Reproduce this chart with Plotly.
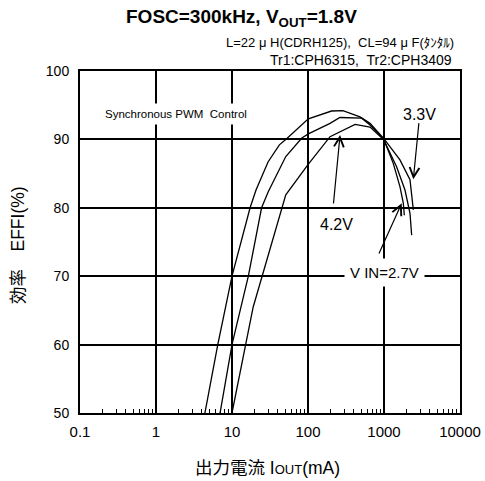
import numpy as np
import plotly.graph_objects as go

# ---------------- data ----------------
cur_27 = [4.4, 6.5, 10, 17.3, 20.7, 29.8, 42, 51, 101, 204, 288, 483, 655, 980, 1324, 1622, 1795, 1850]
eff_27 = [50, 60, 70, 80, 82.6, 86.7, 89.2, 90.0, 93.0, 94.15, 94.2, 93.3, 92.35, 90.2, 86.5, 83.1, 80.7, 78.9]

cur_33 = [6.96, 10, 16.4, 24.5, 30, 42.8, 51, 83, 101, 195, 263, 509, 655, 1030, 1622, 2198, 2432]
eff_33 = [50, 60, 70, 80, 82.35, 85.8, 87.5, 90.2, 90.8, 92.35, 93.2, 93.1, 92.1, 89.9, 87.0, 84.1, 79.7]

cur_42 = [10, 15.1, 19, 51, 100, 195, 263, 416, 655, 985, 1465, 1888, 2198, 2312]
eff_42 = [50, 60, 65.5, 81.9, 86.3, 90.4, 91.1, 92.2, 91.8, 90.0, 86.0, 82.6, 79.2, 76.0]

x_tick_vals = [0.1, 1, 10, 100, 1000, 10000]
x_tick_text = ["0.1", "1", "10", "100", "1000", "10000"]
x_minor_vals = [m * 10.0 ** d for d in range(-1, 4) for m in range(2, 10)]
y_tick_vals = [50, 60, 70, 80, 90, 100]

# arrow tips (current mA, efficiency %) and label positions
arrow_tip_33 = (2432, 84.17)
arrow_tip_42 = (264, 90.64)
arrow_tip_27 = (1710, 80.66)
label_33 = (2890, 93.57)
label_42 = (239, 77.49)
label_27 = (1030, 70.47)
label_sync = (1.83, 93.71)

FONT = "Liberation Sans, Arial, Noto Sans CJK JP, sans-serif"

# ---------------- figure ----------------
fig = go.Figure()
for c, e in [(cur_27, eff_27), (cur_33, eff_33), (cur_42, eff_42)]:
    fig.add_trace(go.Scatter(x=c, y=e, mode="lines",
                             line=dict(color="black", width=1.3),
                             showlegend=False, hoverinfo="skip"))

fig.update_layout(
    template="none",
    width=485, height=481,
    margin=dict(l=80, r=25, t=71, b=68, pad=0),
    paper_bgcolor="white", plot_bgcolor="white",
    font=dict(family=FONT, color="black"),
    xaxis=dict(type="log", range=[-1, 4], automargin=False,
               tickmode="array", tickvals=x_tick_vals, ticktext=x_tick_text,
               showgrid=True, gridcolor="black", gridwidth=1.5,
               showline=True, linecolor="black", linewidth=2, mirror=True,
               ticks="inside", ticklen=4, tickwidth=1, tickcolor="black",
               ticklabelstandoff=4,
               tickfont=dict(size=15, family=FONT),
               zeroline=False,
               minor=dict(tickmode="array", tickvals=x_minor_vals,
                          ticks="inside", ticklen=4, tickcolor="black",
                          tickwidth=1, showgrid=False)),
    yaxis=dict(range=[50, 100], tickmode="array", tickvals=y_tick_vals,
               automargin=False,
               showgrid=True, gridcolor="black", gridwidth=1.5,
               showline=True, linecolor="black", linewidth=2, mirror=True,
               ticks="", ticklabelstandoff=6,
               tickfont=dict(size=14, family=FONT),
               zeroline=False),
)

def px2paper(px, py):
    return (px - 80) / 380.0, (413 - py) / 342.0

anns = []
# title
tx, ty = px2paper(241, 18)
anns.append(dict(xref="paper", yref="paper", x=tx, y=ty, showarrow=False,
                 text="<b>FOSC=300kHz, V<sub>OUT</sub>=1.8V</b>",
                 font=dict(size=19, family=FONT), xanchor="center", yanchor="middle"))
sx, sy = px2paper(456, 43)
anns.append(dict(xref="paper", yref="paper", x=sx, y=sy, showarrow=False,
                 text="L=22 μ H(CDRH125),  CL=94 μ F(ﾀﾝﾀﾙ)",
                 font=dict(size=13, family=FONT), xanchor="right", yanchor="middle"))
sx, sy = px2paper(454, 60)
anns.append(dict(xref="paper", yref="paper", x=sx, y=sy, showarrow=False,
                 text="Tr1:CPH6315,  Tr2:CPH3409",
                 font=dict(size=14, family=FONT), xanchor="right", yanchor="middle"))
# axis titles
ax_, ay_ = px2paper(267, 468)
anns.append(dict(xref="paper", yref="paper", x=ax_, y=ay_, showarrow=False,
                 text="出力電流 I<span style=\"font-size:13px\">OUT</span>(mA)",
                 font=dict(size=17.5, family=FONT), xanchor="center", yanchor="middle"))
ax_, ay_ = px2paper(18, 245)
anns.append(dict(xref="paper", yref="paper", x=ax_, y=ay_, showarrow=False,
                 text="効率　EFFI(%)", textangle=-90,
                 font=dict(size=17.5, family=FONT), xanchor="center", yanchor="middle"))

# white-boxed labels
anns.append(dict(x=np.log10(label_sync[0]), y=label_sync[1], showarrow=False,
                 text="Synchronous PWM  Control", bgcolor="white", borderpad=4,
                 font=dict(size=11.5, family=FONT)))
anns.append(dict(x=np.log10(label_27[0]), y=label_27[1], showarrow=False,
                 text="V IN=2.7V", bgcolor="white", borderpad=5,
                 font=dict(size=15, family=FONT)))
anns.append(dict(x=np.log10(label_33[0]), y=label_33[1], showarrow=False,
                 text="3.3V", font=dict(size=16, family=FONT)))
anns.append(dict(x=np.log10(label_42[0]), y=label_42[1], showarrow=False,
                 text="4.2V", font=dict(size=16, family=FONT)))

# arrows (tip at data point, tail offset in pixels)
for tip, (dx, dy) in [(arrow_tip_33, (5.7, -57.6)),
                      (arrow_tip_42, (-6.7, 70)),
                      (arrow_tip_27, (-23.4, 51.7))]:
    anns.append(dict(x=np.log10(tip[0]), y=tip[1], ax=dx, ay=dy, text="",
                     showarrow=True, arrowhead=5, arrowsize=1.6, arrowwidth=1.2,
                     arrowcolor="black", standoff=0, startstandoff=0))

fig.update_layout(annotations=anns)
fig.write_html("out.html")
